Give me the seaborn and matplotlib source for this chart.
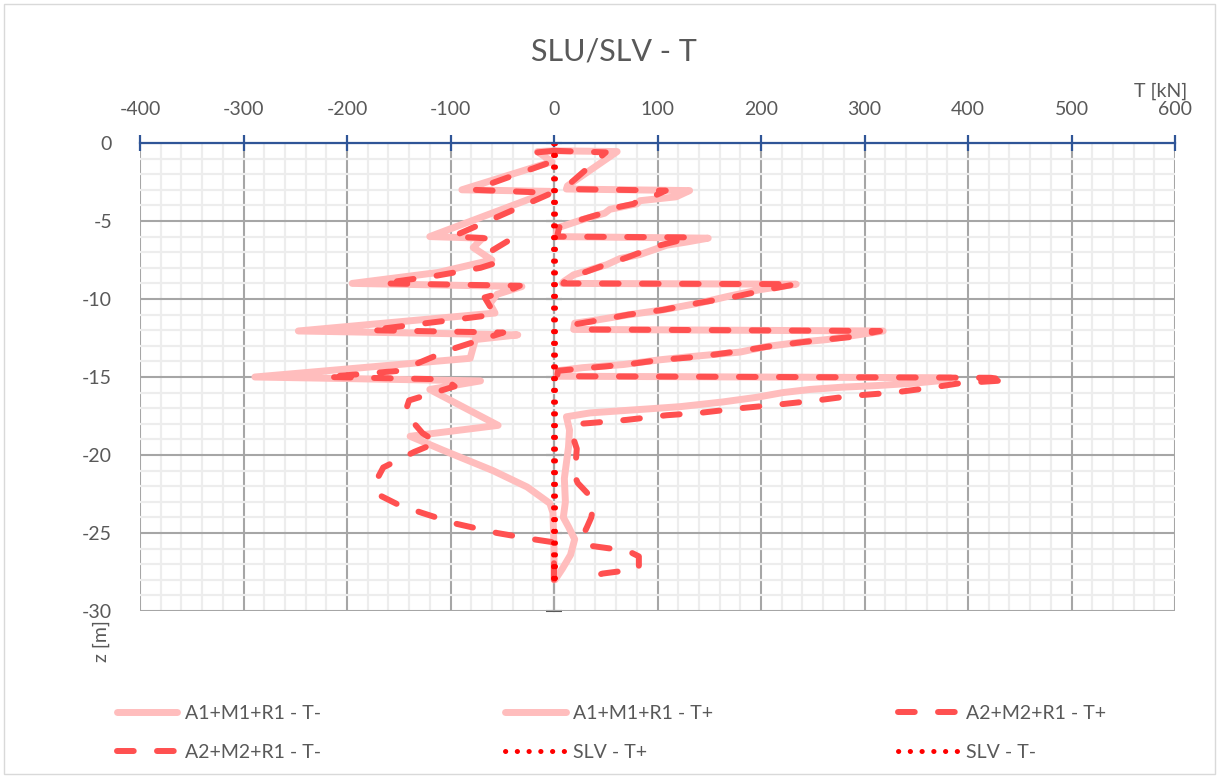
import matplotlib
matplotlib.use("Agg")
import matplotlib.pyplot as plt
import pandas as pd
import seaborn as sns
from matplotlib.ticker import MultipleLocator
from matplotlib.patches import Rectangle

# ---- data: shear T [kN] along depth z [m] ----
z_a1_neg = [-0.5, -0.55, -1.2, -3.0, -3.1, -6.0, -6.1, -6.7, -7.5, -8.3, -9.0, -9.2, -9.7, -10.3,
            -10.9, -12.05, -12.3, -12.6, -13.8, -15.0, -15.25, -15.8, -18.1, -18.8, -19.7, -21.0,
            -22.05, -23.1, -23.7, -26.0, -28.0]
t_a1_neg = [0, -16, -2, -89, -4, -120, -69, -78, -60, -112, -195, -31, -55, -62,
            -57, -247, -35, -76, -81, -289, -71, -120, -54, -139, -107, -59,
            -26, -4, -1, 0, 0]

z_a1_pos = [-0.5, -0.55, -2.75, -2.95, -3.05, -3.45, -3.7, -3.9, -4.25, -4.5,
            -4.9, -5.45, -6.0, -6.1, -6.35, -6.55, -7.15, -7.4, -7.8, -8.45,
            -8.9, -9.0, -9.05, -9.4, -9.85, -10.25, -10.7, -11.0, -11.35, -11.55,
            -11.95, -12.05, -12.6, -12.75, -13.05, -13.4, -13.7, -13.9, -14.2, -14.4,
            -14.6, -14.95, -15.05, -15.2, -15.4, -15.55, -15.65, -15.8, -16.0, -16.3,
            -16.6, -16.9, -17.05, -17.3, -17.55, -18.4, -19.5, -20.5, -21.5, -23.0,
            -24.0, -24.6, -25.4, -26.4, -27.3, -28.0]
t_a1_pos = [0, 61, 13, 12, 131, 118, 83, 80, 54, 49,
            28, 3, 2, 149, 128, 109, 83, 64, 51, 19,
            9, 8, 234, 199, 167, 141, 105, 73, 41, 20,
            19, 318, 264, 240, 205, 180, 131, 102, 67, 28,
            3, 3, 383, 379, 347, 312, 279, 247, 221, 196,
            163, 122, 90, 35, 12, 15, 14, 12, 10, 11,
            9, 14, 20, 16, 8, 1]

z_a2_pos = [-0.5, -0.6, -2.8, -2.95, -3.05, -3.45, -3.75, -3.9, -4.25, -4.5,
            -4.9, -5.4, -6.0, -6.05, -6.35, -6.6, -7.05, -7.35, -7.8, -8.4,
            -8.9, -9.0, -9.05, -9.4, -9.85, -10.25, -10.7, -11.0, -11.4, -11.6,
            -11.95, -12.05, -12.45, -12.7, -13.0, -13.35, -13.7, -13.9, -14.2, -14.4,
            -14.6, -14.95, -15.05, -15.2, -15.4, -15.7, -16.0, -16.2, -16.5, -16.8,
            -17.0, -17.3, -17.45, -17.75, -17.95, -18.0, -18.8, -19.6, -20.5, -21.2,
            -21.8, -22.5, -23.3, -24.0, -24.6, -25.3, -25.8, -26.0, -26.2, -26.5,
            -27.2, -27.4, -27.6, -27.8]
t_a2_pos = [0, 50, 12, 11, 108, 95, 80, 77, 52, 47,
            27, 5, 3, 133, 115, 100, 82, 70, 50, 25,
            10, 9, 234, 206, 175, 140, 105, 72, 40, 22,
            20, 315, 285, 248, 212, 178, 140, 103, 70, 36,
            4, 3, 422, 439, 392, 363, 328, 289, 254, 212,
            180, 141, 109, 70, 35, 25, 18, 22, 21, 19,
            23, 33, 38, 36, 32, 27, 33, 55, 73, 82,
            82, 70, 47, 37]

z_a2_neg = [-0.5, -0.6, -1.2, -3.0, -3.2, -6.0, -6.1, -6.3, -6.9, -7.6,
            -8.0, -8.5, -9.0, -9.15, -9.5, -9.9, -11.0, -12.0, -12.15, -12.6,
            -13.2, -13.6, -14.6, -15.0, -15.15, -15.6, -16.5, -17.3, -18.6, -19.2,
            -19.8, -20.8, -21.8, -22.6, -23.2, -23.7, -24.4, -25.0, -25.4, -25.6,
            -28.0]
t_a2_neg = [0, -16, -2, -78, -2, -98, -68, -45, -60, -52,
            -71, -113, -166, -33, -45, -67, -57, -178, -49, -70,
            -98, -113, -149, -221, -105, -96, -140, -144, -127, -113,
            -135, -165, -173, -168, -150, -128, -95, -55, -20, 0,
            0]

z_slv = [0, -5, -10, -15, -20, -25, -28]
t_slv_pos = [0.5, 0.5, 0.5, 0.5, 0.5, 0.5, 0.5]
t_slv_neg = [-0.5, -0.5, -0.5, -0.5, -0.5, -0.5, -0.5]

labels = ["A1+M1+R1 - T-", "A1+M1+R1 - T+", "A2+M2+R1 - T+",
          "A2+M2+R1 - T-", "SLV - T+", "SLV - T-"]

PINK = "#FFBDBD"
RED_DASH = "#FF5050"
RED_DOT = "#FF0000"
TEXT = "#595959"
AXIS_BLUE = "#2F5597"

sns.set_style("white")
plt.rcParams["font.family"] = ["Lato", "DejaVu Sans"]
plt.rcParams["axes.unicode_minus"] = False

fig = plt.figure(figsize=(12.19, 7.78), dpi=100)
ax = fig.add_axes([140 / 1219, 1 - 611 / 778, 1035 / 1219, 468 / 778])

solid = dict(color=PINK, linewidth=5, linestyle="-",
             solid_capstyle="round", solid_joinstyle="round")
dashed = dict(color=RED_DASH, linewidth=4.3, linestyle=(0, (2.8, 3.9)),
              dash_capstyle="round", dash_joinstyle="round")
dotted = dict(color=RED_DOT, linewidth=3.6, linestyle=(0, (0.05, 2.3)),
              dash_capstyle="round")

series = [
    (labels[0], t_a1_neg, z_a1_neg, solid),
    (labels[1], t_a1_pos, z_a1_pos, solid),
    (labels[2], t_a2_pos, z_a2_pos, dashed),
    (labels[3], t_a2_neg, z_a2_neg, dashed),
    (labels[4], t_slv_pos, z_slv, dotted),
    (labels[5], t_slv_neg, z_slv, dotted),
]
for lab, t, z, style in series:
    df = pd.DataFrame({"T": t, "z": z})
    sns.lineplot(data=df, x="T", y="z", sort=False, estimator=None,
                 ax=ax, label=lab, **style)

if ax.get_legend() is not None:
    ax.get_legend().remove()
ax.set_xlabel("")
ax.set_ylabel("")

ax.set_xlim(-400, 600)
ax.set_ylim(-30, 0)
ax.xaxis.set_major_locator(MultipleLocator(100))
ax.xaxis.set_minor_locator(MultipleLocator(20))
ax.yaxis.set_major_locator(MultipleLocator(5))
ax.yaxis.set_minor_locator(MultipleLocator(1))
ax.xaxis.tick_top()

ax.set_axisbelow(True)
ax.grid(True, which="minor", color="#EDEDED", linewidth=1.6)
ax.grid(True, which="major", color="#A6A6A6", linewidth=1.5)

for side in ["left", "right", "bottom"]:
    ax.spines[side].set_visible(False)
ax.spines["top"].set_color(AXIS_BLUE)
ax.spines["top"].set_linewidth(1.6)

ax.tick_params(axis="x", which="major", direction="inout", length=12, width=1.6,
               color=AXIS_BLUE, labelsize=14, labelcolor=TEXT, pad=12)
ax.tick_params(axis="x", which="minor", length=0)
ax.tick_params(axis="y", which="both", length=0, labelsize=14,
               labelcolor=TEXT, pad=20)

# vertical value axis crossing at T = 0
sec = ax.secondary_yaxis(0.4)
sec.yaxis.set_major_locator(MultipleLocator(5))
sec.tick_params(direction="inout", length=11, width=1.5, color="#595959",
                labelleft=False, labelright=False)
for sp in sec.spines.values():
    sp.set_color("#595959")
    sp.set_linewidth(1.5)

fig.text(614 / 1219, 1 - 52 / 778, "SLU/SLV - T", ha="center", va="center",
         fontsize=22, color=TEXT)
fig.text(1161 / 1219, 1 - 91 / 778, "T [kN]", ha="center", va="center",
         fontsize=14, color=TEXT)
fig.text(101 / 1219, 1 - 641 / 778, "z [m]", ha="center", va="center",
         rotation=90, fontsize=14, color=TEXT)

handles, labs = ax.get_legend_handles_labels()
order = [0, 3, 1, 4, 2, 5]
fig.legend([handles[i] for i in order], [labs[i] for i in order],
           ncol=3, loc="lower left",
           bbox_to_anchor=(103 / 1219, 0.004, (1120 - 103) / 1219, 0.13),
           mode="expand", frameon=False, handlelength=3.1, fontsize=14,
           labelcolor=TEXT, labelspacing=1.15, handletextpad=0.4, borderaxespad=0.3)

fig.patches.append(Rectangle((4 / 1219, 4 / 778), 1 - 8 / 1219, 1 - 8 / 778,
                             transform=fig.transFigure, fill=False,
                             edgecolor="#D9D9D9", linewidth=1))

fig.savefig("out.png", dpi=100)
